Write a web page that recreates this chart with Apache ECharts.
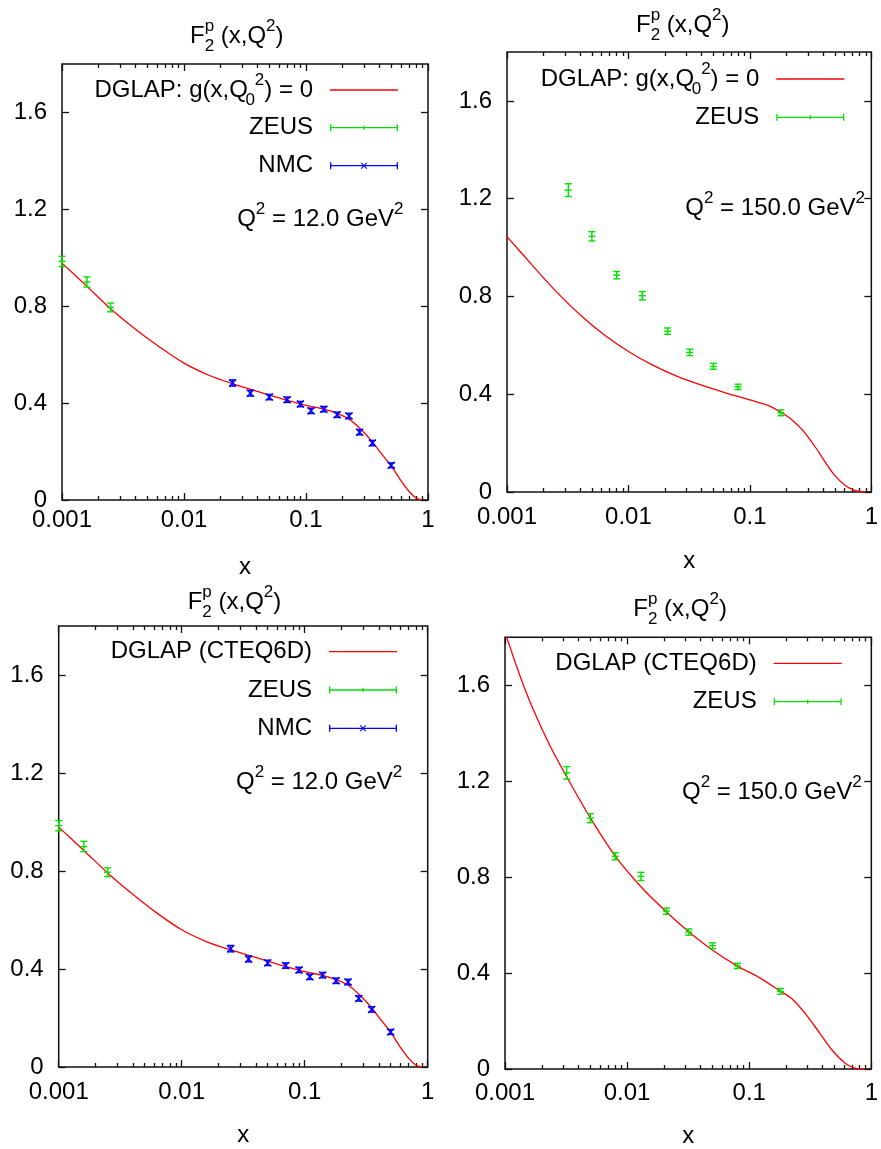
<!DOCTYPE html>
<html><head><meta charset="utf-8">
<script src="https://cdn.jsdelivr.net/npm/echarts@6/dist/echarts.min.js"></script>
<style>html,body{margin:0;padding:0;background:#fff}#c{width:881px;height:1149px}</style>
</head><body><div id="c"></div>
<script>
// ---------------- data ----------------
const zeusX12 = [0.001, 0.0016, 0.0025];
const zeusF2_12 = [0.985, 0.900, 0.795];
const zeusErr12 = [0.021, 0.021, 0.018];

const nmcX = [0.025, 0.035, 0.05, 0.07, 0.09, 0.11, 0.14, 0.18, 0.225, 0.275, 0.35, 0.5];
const nmcF2 = [0.483, 0.441, 0.425, 0.414, 0.396, 0.368, 0.375, 0.352, 0.347, 0.280, 0.235, 0.143];
const nmcErr = [0.013, 0.012, 0.011, 0.011, 0.011, 0.011, 0.011, 0.011, 0.011, 0.011, 0.011, 0.010];

const zeusX150 = [0.0032, 0.005, 0.008, 0.013, 0.021, 0.032, 0.05, 0.08, 0.18];
const zeusF2_150 = [1.235, 1.046, 0.887, 0.803, 0.658, 0.571, 0.514, 0.430, 0.324];
const zeusErr150 = [0.026, 0.019, 0.015, 0.017, 0.013, 0.013, 0.012, 0.011, 0.012];

// sample points of the theory curves (x, F2)
const curveX = [0.001, 0.0016, 0.0025, 0.004, 0.0063, 0.01, 0.016, 0.025, 0.04, 0.063, 0.1, 0.14, 0.18, 0.225, 0.275, 0.35, 0.42, 0.5, 0.6, 0.7, 0.8, 0.9];
// DGLAP g(x,Q0^2)=0, Q^2 = 12
const g0Q12F2 = [0.978, 0.882, 0.790, 0.705, 0.632, 0.565, 0.515, 0.480, 0.448, 0.419, 0.391, 0.375, 0.358, 0.334, 0.297, 0.240, 0.188, 0.140, 0.080, 0.035, 0.008, 0.0];
// DGLAP g(x,Q0^2)=0, Q^2 = 150
const g0Q150F2 = [1.045, 0.930, 0.824, 0.725, 0.643, 0.575, 0.518, 0.474, 0.437, 0.406, 0.377, 0.355, 0.326, 0.293, 0.250, 0.180, 0.120, 0.068, 0.030, 0.010, 0.002, 0.0];
// DGLAP CTEQ6D, Q^2 = 12
const ctQ12F2 = [0.979, 0.884, 0.792, 0.705, 0.628, 0.560, 0.511, 0.478, 0.447, 0.417, 0.389, 0.374, 0.357, 0.335, 0.298, 0.242, 0.190, 0.142, 0.080, 0.035, 0.008, 0.0];
// DGLAP CTEQ6D, Q^2 = 150
const ctQ150X = [0.001, 0.00133, 0.0017, 0.00233, 0.0032, 0.005, 0.008, 0.0131, 0.021, 0.032, 0.0495, 0.08, 0.121, 0.178, 0.226, 0.29, 0.373, 0.479, 0.615, 0.743, 0.896];
const ctQ150F2 = [1.82, 1.638, 1.50, 1.349, 1.219, 1.047, 0.888, 0.758, 0.655, 0.572, 0.497, 0.429, 0.381, 0.326, 0.291, 0.229, 0.154, 0.078, 0.023, 0.003, 0.0];

const xMajorTicks = [0.001, 0.01, 0.1, 1];
const xTickLabels = ['0.001', '0.01', '0.1', '1'];
const xMinorTicks = [0.002, 0.003, 0.004, 0.005, 0.006, 0.007, 0.008, 0.009,
                     0.02, 0.03, 0.04, 0.05, 0.06, 0.07, 0.08, 0.09,
                     0.2, 0.3, 0.4, 0.5, 0.6, 0.7, 0.8, 0.9];
const yTicks = [0, 0.4, 0.8, 1.2, 1.6];
const yTickLabels = ['0', '0.4', '0.8', '1.2', '1.6'];

const NAME_G0 = 'DGLAP: g(x,Q0^2) = 0';
const NAME_CT = 'DGLAP (CTEQ6D)';

// ---------------- styling / layout ----------------
const FONT = 'Liberation Sans';
const RED = '#ff0000', GREEN = '#00e000', BLUE = '#0000ff', INK = '#111';

const PANELS = [
  { grid: {left: 62, top: 64, width: 366, height: 436}, curveName: NAME_G0, curve: [curveX, g0Q12F2],
    zeus: [zeusX12, zeusF2_12, zeusErr12], nmc: true, labelMargin: 8, nameGap: 55,
    title: [190, 36.3], q: {x: 403.5, y: 219, v: '12.0'}, legendRight: 483, legendTops: [71.5, 113.7, 151.7] },
  { grid: {left: 507, top: 52, width: 368, height: 440}, curveName: NAME_G0, curve: [curveX, g0Q150F2],
    zeus: [zeusX150, zeusF2_150, zeusErr150], nmc: false, labelMargin: 13, nameGap: 57,
    title: [636, 25], q: {x: 865, y: 208, v: '150.0'}, legendRight: 36.7, legendTops: [60.5, 103.3] },
  { grid: {left: 58.7, top: 626, width: 369, height: 441}, curveName: NAME_CT, curve: [curveX, ctQ12F2],
    zeus: [zeusX12, zeusF2_12, zeusErr12], nmc: true, labelMargin: 13, nameGap: 56,
    title: [187.7, 602], q: {x: 402.3, y: 782.7, v: '12.0'}, legendRight: 484, legendTops: [637.7, 676, 714.3] },
  { grid: {left: 505, top: 637.3, width: 367, height: 437}, curveName: NAME_CT, curve: [ctQ150X, ctQ150F2],
    zeus: [zeusX150, zeusF2_150, zeusErr150], nmc: false, labelMargin: 12, nameGap: 55,
    title: [633.3, 609], q: {x: 861.7, y: 792.3, v: '150.0'}, legendRight: 39.3, legendTops: [649.3, 687.7] }
];

const ZEUS_ICON = 'path://M0,0h1.3v7h-1.3zM0,2.85h68v1.3h-68zM66.7,0h1.3v7h-1.3zM33.35,1.5h1.3v4h-1.3z';
const NMC_ICON = 'path://M0,0h1.3v7h-1.3zM0,2.85h68v1.3h-68zM66.7,0h1.3v7h-1.3z' +
  'M30.5,0.5L31.9,0.5L37.5,6.5L36.1,6.5zM36.1,0.5L37.5,0.5L31.9,6.5L30.5,6.5z';

const RICH_EC = {
  m:  {fontSize: 24, lineHeight: 28, fontFamily: FONT, color: '#000', verticalAlign: 'middle'},
  sp: {fontSize: 17, lineHeight: 17, fontFamily: FONT, color: '#000', verticalAlign: 'middle', padding: [0, 0, 20, 0]},
  sb: {fontSize: 17, lineHeight: 17, fontFamily: FONT, color: '#000', verticalAlign: 'middle', padding: [20, 0, 0, 0]},
  sbn:{fontSize: 17, lineHeight: 17, fontFamily: FONT, color: '#000', verticalAlign: 'middle', padding: [20, 0, 0, 0], width: 7}
};
const RICH_ZR = {
  m:  {fontSize: 24, lineHeight: 28, fontFamily: FONT, fill: '#000', verticalAlign: 'middle'},
  sp: {fontSize: 17, lineHeight: 17, fontFamily: FONT, fill: '#000', verticalAlign: 'middle', padding: [0, 0, 20, 0]},
  sb: {fontSize: 17, lineHeight: 17, fontFamily: FONT, fill: '#000', verticalAlign: 'middle', padding: [20, 0, 0, 0]},
  pz: {fontSize: 17, lineHeight: 17, fontFamily: FONT, fill: '#000', verticalAlign: 'middle', padding: [0, 0, 20, 0], width: 0.01}
};

function legendText(name) {
  if (name === NAME_G0) return '{m|DGLAP: g(x,Q}{sbn|0}{sp|2}{m|) = 0}';
  return '{m|' + name + '}';
}

function errorBarRenderer(marker) {
  return function (params, api) {
    const x = api.value(0), y = api.value(1), e = api.value(2);
    const hi = api.coord([x, y + e]), lo = api.coord([x, y - e]), c = api.coord([x, y]);
    const w = 3.5;
    const st = {stroke: api.visual('color'), lineWidth: 1.4, fill: 'none'};
    const L = (x1, y1, x2, y2) => ({type: 'line', shape: {x1, y1, x2, y2}, style: st});
    const ch = [L(hi[0], hi[1], lo[0], lo[1]), L(hi[0] - w, hi[1], hi[0] + w, hi[1]), L(lo[0] - w, lo[1], lo[0] + w, lo[1])];
    if (marker === 'plus') {
      ch.push(L(c[0] - w, c[1], c[0] + w, c[1]));
    } else {
      ch.push(L(c[0] - w, c[1] - w, c[0] + w, c[1] + w));
      ch.push(L(c[0] - w, c[1] + w, c[0] + w, c[1] - w));
    }
    return {type: 'group', children: ch};
  };
}

function zip(...arrs) { return arrs[0].map((_, i) => arrs.map(a => a[i])); }

function xLabel(v) {
  const i = xMajorTicks.findIndex(t => Math.abs(Math.log10(t) - Math.log10(v)) < 1e-6);
  return i >= 0 ? xTickLabels[i] : '';
}
function yLabel(v) {
  const i = yTicks.findIndex(t => Math.abs(t - v) < 1e-6);
  return i >= 0 ? yTickLabels[i] : '';
}

const option = {
  animation: false,
  backgroundColor: '#fff',
  textStyle: {fontFamily: FONT},
  grid: [], xAxis: [], yAxis: [], series: [], legend: [], graphic: []
};

PANELS.forEach((p, gi) => {
  option.grid.push(Object.assign({show: true, borderColor: INK, borderWidth: 1.5, backgroundColor: 'transparent'}, p.grid));
  const tickStyle = {color: INK, width: 1.3};
  const xBase = {type: 'log', logBase: 10, gridIndex: gi, min: 0.001, max: 1,
    splitLine: {show: false}, axisLine: {show: false, onZero: false}, minorTick: {show: false}};
  option.xAxis.push(Object.assign({}, xBase, {position: 'bottom',
    axisTick: {show: true, inside: true, length: 7, customValues: xMajorTicks, lineStyle: tickStyle},
    axisLabel: {show: true, customValues: xMajorTicks, formatter: xLabel, margin: p.labelMargin,
      fontSize: 24, lineHeight: 24, color: '#000', fontFamily: FONT},
    name: 'x', nameLocation: 'middle', nameGap: p.nameGap,
    nameTextStyle: {fontSize: 24, lineHeight: 24, color: '#000', fontFamily: FONT}}));
  option.xAxis.push(Object.assign({}, xBase, {position: 'bottom',
    axisTick: {show: true, inside: true, length: 4, customValues: xMinorTicks, lineStyle: tickStyle},
    axisLabel: {show: false}}));
  option.xAxis.push(Object.assign({}, xBase, {position: 'top',
    axisTick: {show: true, inside: true, length: 7, customValues: xMajorTicks, lineStyle: tickStyle},
    axisLabel: {show: false}}));
  option.xAxis.push(Object.assign({}, xBase, {position: 'top',
    axisTick: {show: true, inside: true, length: 4, customValues: xMinorTicks, lineStyle: tickStyle},
    axisLabel: {show: false}}));

  const yBase = {type: 'value', gridIndex: gi, min: 0, max: 1.8, interval: 0.4,
    splitLine: {show: false}, axisLine: {show: false, onZero: false}};
  option.yAxis.push(Object.assign({}, yBase, {position: 'left',
    axisTick: {show: true, inside: true, length: 7, customValues: yTicks, lineStyle: tickStyle},
    axisLabel: {show: true, customValues: yTicks, formatter: yLabel, margin: 15,
      fontSize: 24, color: '#000', fontFamily: FONT}}));
  option.yAxis.push(Object.assign({}, yBase, {position: 'right',
    axisTick: {show: true, inside: true, length: 7, customValues: yTicks, lineStyle: tickStyle},
    axisLabel: {show: false}}));

  const xi = gi * 4, yi = gi * 2;
  option.series.push({type: 'line', name: p.curveName, xAxisIndex: xi, yAxisIndex: yi,
    data: zip(p.curve[0], p.curve[1]), showSymbol: false, symbol: 'none', smooth: 0.3, clip: true,
    lineStyle: {color: RED, width: 1.3}, itemStyle: {color: RED}, z: 2});
  option.series.push({type: 'custom', name: 'ZEUS', xAxisIndex: xi, yAxisIndex: yi,
    data: zip(p.zeus[0], p.zeus[1], p.zeus[2]), encode: {x: 0, y: 1},
    renderItem: errorBarRenderer('plus'), itemStyle: {color: GREEN}, z: 3});
  if (p.nmc) {
    option.series.push({type: 'custom', name: 'NMC', xAxisIndex: xi, yAxisIndex: yi,
      data: zip(nmcX, nmcF2, nmcErr), encode: {x: 0, y: 1},
      renderItem: errorBarRenderer('cross'), itemStyle: {color: BLUE}, z: 3});
  }

  const legendItems = [{name: p.curveName, icon: 'rect', w: 68, h: 1.3},
                       {name: 'ZEUS', icon: ZEUS_ICON, w: 68, h: 7}];
  if (p.nmc) legendItems.push({name: 'NMC', icon: NMC_ICON, w: 68, h: 7});
  legendItems.forEach((it, k) => {
    option.legend.push({show: true, data: [{name: it.name, icon: it.icon}], orient: 'vertical', align: 'right',
      right: p.legendRight, top: p.legendTops[k], itemWidth: it.w, itemHeight: it.h, padding: 0, itemGap: 0,
      selectedMode: false, itemStyle: {borderWidth: 0},
      formatter: legendText,
      textStyle: {fontSize: 24, lineHeight: 28, fontFamily: FONT, color: '#000', padding: [0, 12, 0, 0], rich: RICH_EC}});
  });

  // panel title  F_2^p (x,Q^2)
  option.graphic.push({type: 'text', x: p.title[0], y: p.title[1], silent: true,
    style: {text: '{m|F}{pz|p}{sb|2}{m| (x,Q}{sp|2}{m|)}', rich: RICH_ZR, fill: '#000',
      fontSize: 24, fontFamily: FONT, align: 'left', textAlign: 'left', verticalAlign: 'middle', textVerticalAlign: 'middle'}});
  // Q^2 annotation
  option.graphic.push({type: 'text', x: p.q.x, y: p.q.y, silent: true,
    style: {text: '{m|Q}{sp|2}{m| = ' + p.q.v + ' GeV}{sp|2}', rich: RICH_ZR, fill: '#000',
      fontSize: 24, fontFamily: FONT, align: 'right', textAlign: 'right', verticalAlign: 'middle', textVerticalAlign: 'middle'}});
});

const chart = echarts.init(document.getElementById('c'), null, {renderer: 'canvas', width: 881, height: 1149});
chart.setOption(option);
</script>
</body></html>
